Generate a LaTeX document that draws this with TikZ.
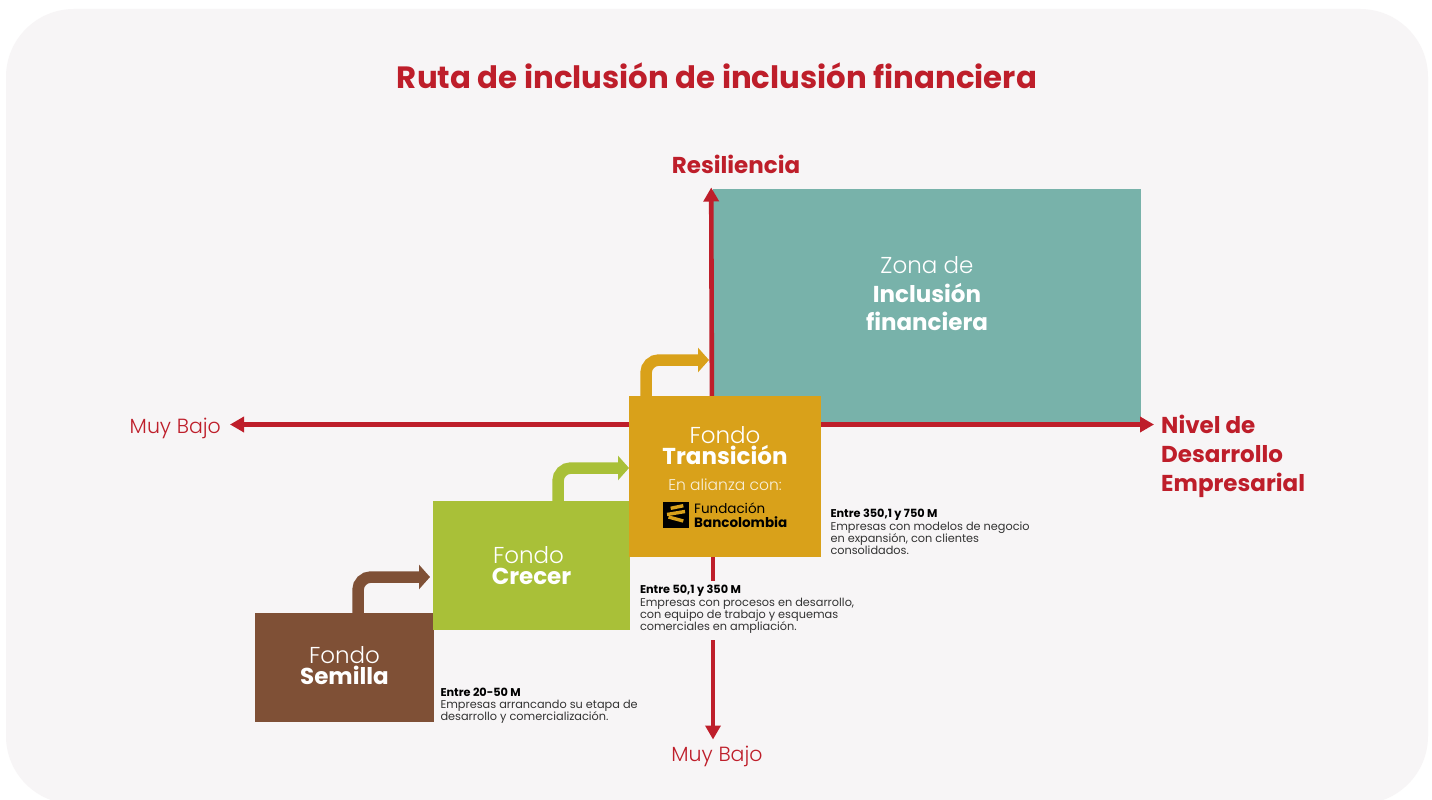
\documentclass[tikz,border=0pt]{standalone}
\usepackage{fontspec}
\setmainfont{Poppins}
\newfontfamily\lightf{Poppins Light}
\usetikzlibrary{arrows.meta}
\definecolor{panel}{HTML}{F7F5F6}
\definecolor{axisred}{HTML}{BE1E2A}
\definecolor{brown}{HTML}{7F5036}
\definecolor{lime}{HTML}{A9C038}
\definecolor{gold}{HTML}{D9A11A}
\definecolor{teal}{HTML}{78B2AA}
\tikzset{
 box/.style={inner sep=0pt,outer sep=0pt,text=white,align=center,font=\fontsize{23}{21}\selectfont},
 axisline/.style={draw=axisred,line width=4.6pt,-{Triangle[length=14pt,width=15pt]}},
 elbow/.style={line width=11.5pt,rounded corners=13pt,-{Triangle[length=11pt,width=24pt]}},
 desc/.style={anchor=north west,inner sep=0pt,outer sep=0pt,align=left,text=black!80,font=\fontsize{11.3}{12.2}\selectfont},
 axislabel/.style={text=axisred,font=\fontsize{20.5}{20}\selectfont\lightf,inner sep=0pt},
 redhead/.style={text=axisred,font=\fontsize{23}{29}\selectfont\bfseries,inner sep=0pt,align=left}
}
\begin{document}
\begin{tikzpicture}[x=1pt,y=-1pt]
\useasboundingbox (0,0) rectangle (1432,800);
\fill[white] (0,0) rectangle (1432,800);
\fill[panel,rounded corners=68pt] (6,9) rectangle (1428,804);
\node[text=axisred,font=\fontsize{30.8}{30}\selectfont\bfseries,inner sep=0pt] (title) at (717,76) {Ruta de inclusión de inclusión financiera};
% axes
\coordinate (vtop) at (711.2,187.5);
\coordinate (vbot) at (713,739.5);
\coordinate (hleft) at (230,424.5);
\coordinate (hright) at (1154,424.5);
\coordinate (hstart) at (712,424.5);
\node[fill=teal,box,minimum width=428pt,minimum height=233pt] (zona) at (927,305.5) {};
\draw[axisline] (hstart) -- (hleft);
\draw[axisline] (hstart) -- (hright);
\draw[axisline] (vbot |- hstart) -- (vbot);
\draw[axisline] (hstart) -- (vtop);
\node[text=white,align=center,inner sep=0pt,font=\fontsize{23}{28.5}\selectfont] (zonatxt) at (927,294) {{\lightf Zona de}\\\textbf{Inclusión}\\\textbf{financiera}};
% boxes
\node[fill=brown,box,minimum width=179pt,minimum height=109pt] (semilla) at (344.5,667.5) {};
\node[box] (semtxt) at (344.5,666) {{\lightf Fondo}\\\textbf{Semilla}};
\node[fill=lime,box,minimum width=197pt,minimum height=129pt] (crecer) at (531.5,565.5) {{\lightf Fondo}\hspace*{6pt}\\\textbf{Crecer}};
\node[fill=gold,box,minimum width=192pt,minimum height=161pt] (transicion) at (725,476.5) {};
\node[box] (transtxt) at (725,445.5) {{\lightf Fondo}\\\textbf{Transición}};
\node[text=white!85!gold,inner sep=0pt,font=\fontsize{15.5}{16}\selectfont\lightf] (alianza) at (725,485) {En alianza con:};
% logo
\node[fill=black,minimum size=26pt,inner sep=0pt] (logo) at (676,515) {};
\begin{scope}[gold,line width=3.4pt]
\draw (670.7,508.3) -- (683.3,505.7);
\draw (667,514.5) -- (685,511.5);
\draw (668.5,517) -- (683.3,521);
\end{scope}
\node[anchor=west,inner sep=0pt,font=\fontsize{13.5}{15}\selectfont,text=black] (fund) at (694,508) {Fundación};
\node[anchor=west,inner sep=0pt,font=\fontsize{13.5}{15}\selectfont\bfseries,text=black] (banco) at (694,522) {Bancolombia};
% elbows
\draw[elbow,brown] ([xshift=103pt]semilla.north west) |- ([yshift=-11.5pt,xshift=-3pt]crecer.west);
\draw[elbow,lime] ([xshift=125pt]crecer.north west) |- ([yshift=8.5pt]transicion.west);
\draw[elbow,gold] ([xshift=17pt]transicion.north west) |- ([yshift=-54.5pt,xshift=-4pt]zona.west);
% labels
\node[redhead,anchor=center] (res) at (736,164) {Resiliencia};
\node[redhead,anchor=west] (nivel) at (1161,456.5) {Nivel de\\Desarrollo\\Empresarial};
\node[axislabel,anchor=east] (mbl) at (221,428) {Muy Bajo};
\node[axislabel] (mbb) at (717,756) {Muy Bajo};
\node[desc] (d3) at (830.5,509.5) {\textbf{\textcolor{black}{Entre 350,1 y 750 M}}\\Empresas con modelos de negocio\\en expansión, con clientes\\consolidados.};
\fill[panel] (640,581) rectangle (855,640);
\node[desc] (d2) at (640,585.5) {\textbf{\textcolor{black}{Entre 50,1 y 350 M}}\\Empresas con procesos en desarrollo,\\con equipo de trabajo y esquemas\\comerciales en ampliación.};
\node[desc] (d1) at (440.5,688) {\textbf{\textcolor{black}{Entre 20-50 M}}\\Empresas arrancando su etapa de\\desarrollo y comercialización.};
\end{tikzpicture}
\end{document}
